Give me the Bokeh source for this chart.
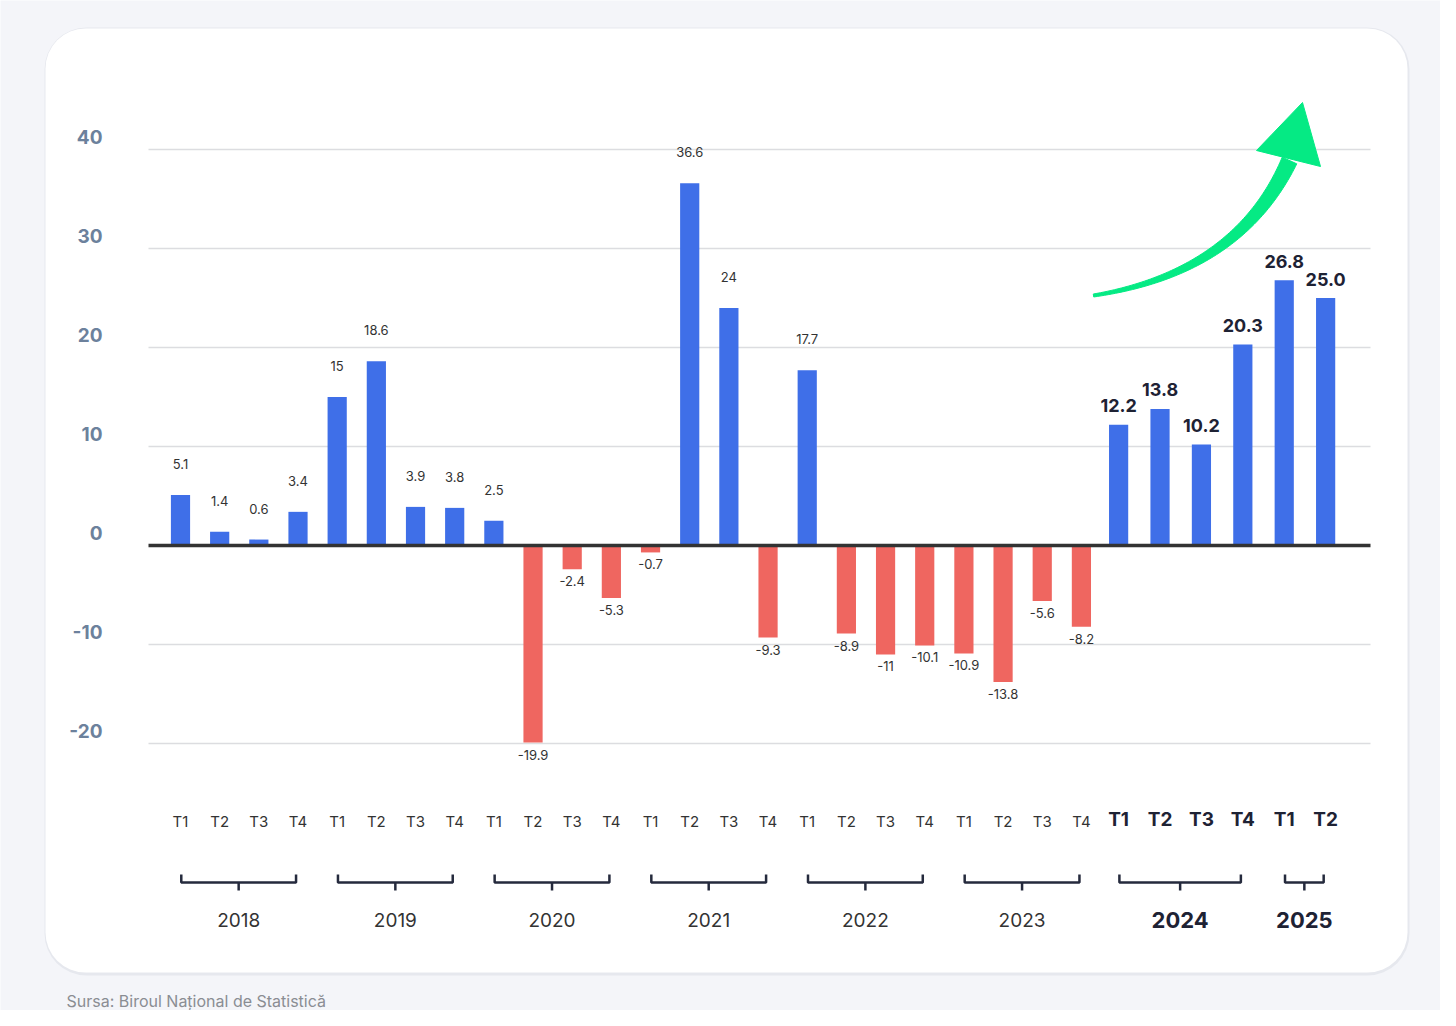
import numpy as np
from bokeh.plotting import figure
from bokeh.models import Range1d, BoxAnnotation
from bokeh.core.properties import value
from bokeh.embed import file_html
from bokeh.resources import INLINE

# ---------------- data ----------------
years = ["2018", "2019", "2020", "2021", "2022", "2023", "2024", "2025"]
quarters_per_year = [4, 4, 4, 4, 4, 4, 4, 2]
quarter_names = ["T1", "T2", "T3", "T4"]
growth = [5.1, 1.4, 0.6, 3.4,
          15.0, 18.6, 3.9, 3.8,
          2.5, -19.9, -2.4, -5.3,
          -0.7, 36.6, 24.0, -9.3,
          17.7, -8.9, -11.0, -10.1,
          -10.9, -13.8, -5.6, -8.2,
          12.2, 13.8, 10.2, 20.3,
          26.8, 25.0]
highlight_years = ["2024", "2025"]
y_ticks = [40, 30, 20, 10, 0, -10, -20]
source_text = "Sursa: Biroul Național de Statistică"

# ---------------- layout helpers (pixel -> data) ----------------
W, H = 1440, 1010
SX = 39.17   # px per x unit
SY = 9.9     # px per y unit
def ux(X):   # canvas X -> data x
    return (X - 180) / SX
def uy(Y):   # canvas Y -> data y
    return (545 - Y) / SY

FONT = value("Inter")
BLUE = "#3f6fe8"
RED = "#ef6660"
DARK = "#1e2234"

# bar positions
xpos = []
qlab = []
year_of = []
idx = 0
for y, nq in zip(years, quarters_per_year):
    for q in range(nq):
        if y in highlight_years:
            k = idx - 24
            xpos.append(23.95 + k * 1.057)
        else:
            xpos.append(float(idx))
        qlab.append(quarter_names[q])
        year_of.append(y)
        idx += 1
hl = [y in highlight_years for y in year_of]

p = figure(width=W, height=H, output_backend="svg", toolbar_location=None,
           x_range=Range1d(ux(0), ux(W)), y_range=Range1d(uy(H), uy(0)),
           x_axis_type=None, y_axis_type=None, min_border=0,
           background_fill_color="#f4f5f9", border_fill_color="#f4f5f9",
           outline_line_color=None)
p.grid.visible = False

# card with soft shadow
p.add_layout(BoxAnnotation(left=ux(44), right=ux(1409), top=uy(27), bottom=uy(975),
                           fill_color="#e6e8ee", fill_alpha=1, line_color=None,
                           border_radius=42, level="underlay"))
p.add_layout(BoxAnnotation(left=ux(45), right=ux(1407), top=uy(28), bottom=uy(972),
                           fill_color="white", fill_alpha=1, line_color=None,
                           border_radius=40, level="underlay"))

# gridlines
gy = [t for t in y_ticks if t != 0]
p.segment(x0=[ux(148)] * len(gy), x1=[ux(1370)] * len(gy), y0=gy, y1=gy,
          line_color="#dcdde0", line_width=1.5)

# bars
colors = [BLUE if v >= 0 else RED for v in growth]
p.vbar(x=xpos, top=growth, bottom=0, width=0.49, fill_color=colors, line_color=None)

# zero line
p.segment(x0=[ux(148)], x1=[ux(1370)], y0=[0], y1=[0], line_color="#333333", line_width=3.5)

# y tick labels
p.text(x=[ux(102)] * len(y_ticks), y=[t + 13 / SY for t in y_ticks],
       text=[str(t) for t in y_ticks], text_font=FONT, text_font_size="19px",
       text_font_style="bold", text_color="#6c819c", text_align="right",
       text_baseline="middle")

# value labels
reg_x, reg_y, reg_t = [], [], []
hl_x, hl_y, hl_t = [], [], []
for x, v, h in zip(xpos, growth, hl):
    if h:
        hl_x.append(x); hl_y.append(v + 19 / SY); hl_t.append(f"{v:.1f}")
    else:
        reg_x.append(x)
        reg_y.append(v + 31 / SY if v >= 0 else v - 12 / SY)
        reg_t.append(f"{v:g}")
p.text(x=reg_x, y=reg_y, text=reg_t, text_font=FONT, text_font_size="13px",
       text_color="#333333", text_align="center", text_baseline="middle")
p.text(x=hl_x, y=hl_y, text=hl_t, text_font=FONT, text_font_size="18px",
       text_font_style="bold", text_color=DARK, text_align="center", text_baseline="middle")

# quarter labels
p.text(x=[x for x, h in zip(xpos, hl) if not h], y=[uy(821)] * hl.count(False),
       text=[q for q, h in zip(qlab, hl) if not h], text_font=FONT, text_font_size="15px",
       text_color="#333333", text_align="center", text_baseline="middle")
p.text(x=[x for x, h in zip(xpos, hl) if h], y=[uy(819)] * hl.count(True),
       text=[q for q, h in zip(qlab, hl) if h], text_font=FONT, text_font_size="19px",
       text_font_style="bold", text_color=DARK, text_align="center", text_baseline="middle")

# year brackets + labels
bx, by = [], []
yl_reg, yl_hl = ([], [], []), ([], [], [])
start = 0
for y, nq in zip(years, quarters_per_year):
    x0 = xpos[start] + 0.02
    x1 = xpos[start + nq - 1] - 0.05
    xc = (x0 + x1) / 2
    bx.append([x0, x0, x1, x1]); by.append([uy(874), uy(882), uy(882), uy(874)])
    bx.append([xc, xc]); by.append([uy(882), uy(890)])
    target = yl_hl if y in highlight_years else yl_reg
    target[0].append(xc); target[1].append(uy(919)); target[2].append(y)
    start += nq
p.multi_line(xs=bx, ys=by, line_color="#252a3d", line_width=2.5)
p.text(x=yl_reg[0], y=yl_reg[1], text=yl_reg[2], text_font=FONT, text_font_size="19px",
       text_color="#333333", text_align="center", text_baseline="middle")
p.text(x=yl_hl[0], y=yl_hl[1], text=yl_hl[2], text_font=FONT, text_font_size="22px",
       text_font_style="bold", text_color=DARK, text_align="center", text_baseline="middle")

# green trend arrow (decorative), built in pixel space
P0 = np.array([1093.0, 295.0]); P1 = np.array([1238.0, 272.0]); P2 = np.array([1289.0, 160.0])
t = np.linspace(0, 1, 80)
pts = ((1 - t) ** 2)[:, None] * P0 + (2 * (1 - t) * t)[:, None] * P1 + (t ** 2)[:, None] * P2
der = (2 * (1 - t))[:, None] * (P1 - P0) + (2 * t)[:, None] * (P2 - P1)
nrm = np.stack([-der[:, 1], der[:, 0]], axis=1)
nrm /= np.linalg.norm(nrm, axis=1)[:, None]
wid = 1.5 + 6.5 * t ** 1.1
left = pts + nrm * wid[:, None]
right = pts - nrm * wid[:, None]
poly = np.vstack([left, right[::-1]])
p.patch(x=[ux(X) for X in poly[:, 0]], y=[uy(Y) for Y in poly[:, 1]],
        fill_color="#05ea84", line_color="#05ea84", line_width=1)
head = [(1256, 150), (1302, 102), (1320, 166)]
p.patch(x=[ux(a) for a, b in head], y=[uy(b) for a, b in head],
        fill_color="#05ea84", line_color="#05ea84", line_width=1)

# source
p.text(x=[ux(66)], y=[uy(1000)], text=[source_text], text_font=FONT, text_font_size="16px",
       text_color="#8a8d93", text_align="left", text_baseline="middle")

open("out.html", "w").write(file_html(p, INLINE))
